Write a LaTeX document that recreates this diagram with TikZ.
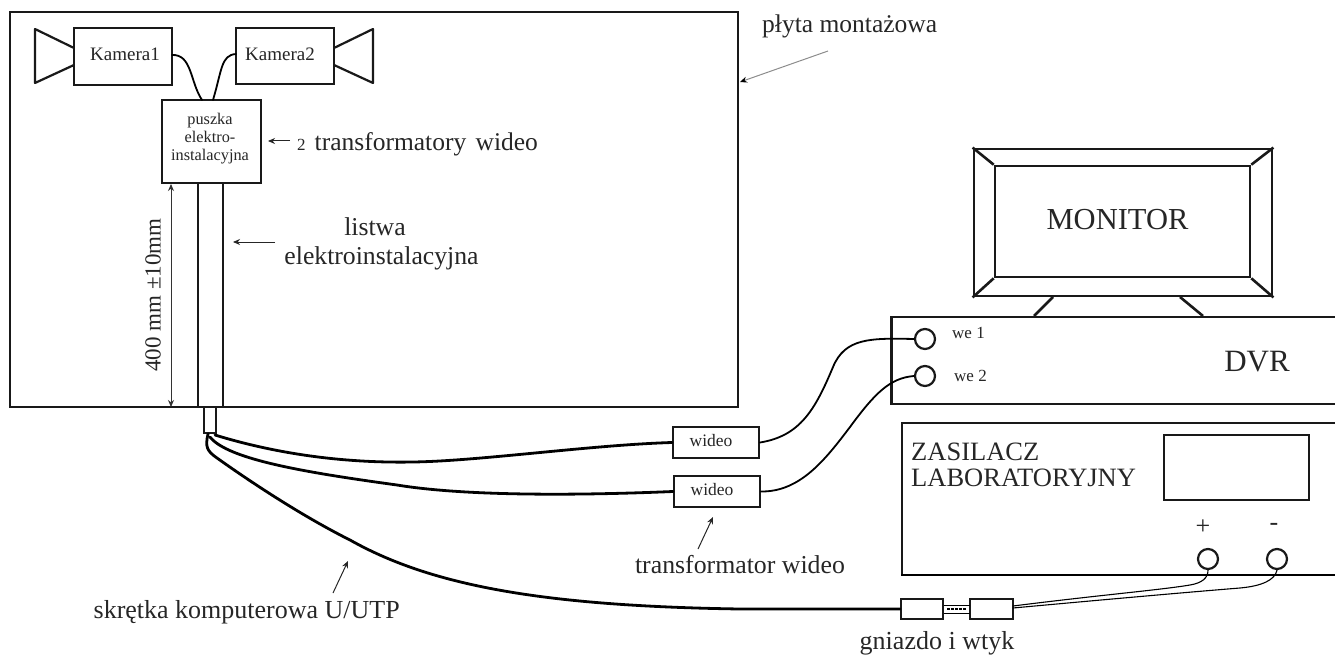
\documentclass[tikz,border=0pt]{standalone}
\usepackage{fontspec}
\setmainfont{Liberation Serif}
\usetikzlibrary{arrows.meta}
\newcommand{\fsz}[1]{\fontsize{#1}{#1}\selectfont}
\tikzset{
  box/.style={draw=black!90,line width=2pt,fill=white,inner sep=0pt,align=center},
  thick line/.style={draw=black!90,line width=2.6pt},
  wire/.style={draw=black,line width=1.8pt,line cap=round},
  cable/.style={draw=black,line width=2.8pt,line cap=round},
  thin wire/.style={draw=black,line width=1.1pt,line cap=round},
  lbl/.style={inner sep=0pt,align=center,text=black!85},
  pointer/.style={draw=black!85,line width=1pt,-{Stealth[length=7pt,width=6pt]}},
  socket/.style={circle,draw=black!90,line width=2.2pt,fill=white,minimum size=20pt,inner sep=0pt}
}
\begin{document}
\begin{tikzpicture}[x=1pt,y=-1pt]
\useasboundingbox (0,0) rectangle (1335,655);
% plate
\node[box,minimum width=728pt,minimum height=395pt] (plate) at (374,209.5) {};
% listwa
\coordinate (l1t) at (198,183); \coordinate (l1b) at (198,407);
\coordinate (l2t) at (223,183); \coordinate (l2b) at (223,407);
\draw[thick line] (l1t) -- (l1b); \draw[thick line] (l2t) -- (l2b);
\node[box,minimum width=12pt,minimum height=26pt] (stub) at (210,420) {};
% cameras
\node[box,minimum width=98pt,minimum height=57pt] (k1) at (123,56.5) {};
\node[font=\fsz{19},lbl] at (125,54) {Kamera1};
\node[box,minimum width=98pt,minimum height=56pt] (k2) at (285,56) {};
\node[font=\fsz{19},lbl] at (280,54) {Kamera2};
\draw[draw=black!90,line width=2.2pt,line join=round] (74,48) -- (35,29) -- (35,83) -- (74,65);
\draw[draw=black!90,line width=2.2pt,line join=round] (334,48) -- (373,29) -- (373,83) -- (334,65);
\node[box,minimum width=99pt,minimum height=83pt] (pu) at (211.5,141.5) {};
\node[lbl,font=\fontsize{16.3}{17.7}\selectfont] at (210,138.5) {puszka\\elektro-\\instalacyjna};
\coordinate (pa) at (202,100); \coordinate (pb) at (213,100);
\coordinate (k1o) at (172,55); \coordinate (k2o) at (236,54);
\draw[wire] (k1o) .. controls (192,54) and (190,82) .. (pa);
\draw[wire] (k2o) .. controls (221,55) and (222,70) .. (pb);
% dimension
\coordinate (dt) at (171,184); \coordinate (db) at (171,407);
\draw[draw=black!80,line width=1pt,{Stealth[length=7pt,width=6pt]}-{Stealth[length=7pt,width=6pt]}] (dt) -- (db);
\node[lbl,rotate=90,font=\fsz{23}] at (153,295) {400 mm ±10mm};
% labels on plate
\coordinate (a1s) at (290,141); \coordinate (a1e) at (268,141);
\draw[pointer] (a1s) -- (a1e);
\node[lbl,anchor=west,font=\fsz{25.5}] at (297,144) {\fsz{17}2\hspace{9pt}\fsz{25.5}transformatory\hspace{3pt} wideo};
\coordinate (a2s) at (275,242); \coordinate (a2e) at (233,242);
\draw[pointer] (a2s) -- (a2e);
\node[lbl,font=\fsz{25.7}] (ls1) at (375,227) {listwa};
\node[lbl,font=\fsz{25.7}] (ls2) at (381.5,258) {elektroinstalacyjna};
\node[lbl,anchor=west,font=\fsz{25.5}] at (762,26) {płyta montażowa};
\coordinate (a3s) at (828,51); \coordinate (a3e) at (740,82);
\draw[draw=black!45,line width=1pt,-{Stealth[length=7pt,width=6pt,color=black]}] (a3s) -- (a3e);
% monitor
\node[box,line width=2.8pt,minimum width=298pt,minimum height=147pt] (mo) at (1123,222.5) {};
\node[box,line width=2.6pt,minimum width=255pt,minimum height=111pt] (ms) at (1122.5,221.5) {};
\node[lbl,font=\fsz{30.5}] at (1117.5,220) {MONITOR};
\draw[thick line] (mo.north west) -- (ms.north west);
\draw[thick line] (mo.north east) -- (ms.north east);
\draw[thick line] (mo.south west) -- (ms.south west);
\draw[thick line] (mo.south east) -- (ms.south east);
% DVR
\node[box,line width=2.2pt,minimum width=445pt,minimum height=87pt] (dvr) at (1114,360.5) {};
\draw[thick line] (1053,297) -- (1034,316);
\draw[thick line] (1180,297) -- (1203,316);
\node[lbl,font=\fsz{31}] at (1257,362) {DVR};
\node[socket] (w1) at (925,339) {};
\node[socket] (w2) at (925,376) {};
\node[lbl,anchor=west,font=\fsz{17}] at (952,333) {we 1};
\node[lbl,anchor=west,font=\fsz{17}] at (954,376) {we 2};
% zasilacz
\draw[draw=black!90,line width=2.2pt] (1335,423) -- (902,423) -- (902,575);
\draw[draw=black,line width=2.8pt] (901,575) -- (1335,575);
\node[box,minimum width=145pt,minimum height=65pt] (disp) at (1236.5,467.5) {};
\node[lbl,anchor=west,font=\fsz{26.5}] at (911,452) {ZASILACZ};
\node[lbl,anchor=west,font=\fsz{26.5}] at (911,478) {LABORATORYJNY};
\node[lbl,font=\fsz{26}] at (1203,527) {+};
\node[lbl,font=\fsz{26}] at (1274,527) {-};
\node[socket] (pl) at (1208,559) {};
\node[socket] (mi) at (1277,559) {};
% transformers
\node[box,minimum width=86pt,minimum height=31pt] (t1) at (716,442.5) {};
\node[lbl,font=\fsz{17.5}] at (711,441) {wideo};
\node[box,minimum width=86pt,minimum height=31pt] (t2) at (717,491.5) {};
\node[lbl,font=\fsz{17.5}] at (712,490) {wideo};
\draw[wire] (t1.east) .. controls (800,436) and (815,410) .. (833,367) .. controls (845,338) and (870,338) .. (w1.west);
\draw[wire] (t2.east) .. controls (800,492) and (825,460) .. (850,427) .. controls (875,393) and (890,378) .. (w2.west);
% plug
\node[box,minimum width=42pt,minimum height=20pt] (g1) at (922,609) {};
\node[box,minimum width=43pt,minimum height=20pt] (g2) at (991.5,609) {};
\draw[draw=black,line width=1pt] (g1.east) ++(0,-4) -- (970,605) (g1.east) ++(0,4) -- (970,613);
\draw[draw=black,line width=2pt,dash pattern=on 2.5pt off 1.5pt] (g1.east) ++(3,0) -- ([xshift=-2pt]g2.west);
% cables
\coordinate (c) at (208,434);
\draw[cable] (215,435) .. controls (290,458) and (360,463) .. (413,462) .. controls (480,461) and (590,445) .. (t1.west);
\draw[cable] (210,437) .. controls (228,460) and (310,473) .. (397,485) .. controls (470,497) and (590,495) .. (t2.west);
\draw[cable] (c) .. controls (205,447) and (207,451) .. (217,458) .. controls (262,490) and (310,520) .. (350,540) .. controls (430,585) and (540,606) .. (740,609) -- (g1.west);
\coordinate (g2a) at (1013,606); \coordinate (g2b) at (1013,608);
\draw[thin wire] (g2a) .. controls (1100,595) and (1160,590) .. (1190,585) .. controls (1202,583) and (1208,578) .. (pl.south);
\draw[thin wire] (g2b) .. controls (1100,600) and (1190,592) .. (1240,588) .. controls (1262,586) and (1275,580) .. (mi.south);
% bottom labels
\coordinate (a4s) at (698,549); \coordinate (a4e) at (713,517);
\draw[pointer] (a4s) -- (a4e);
\node[lbl,font=\fsz{25.8}] at (740,565) {transformator wideo};
\coordinate (a5s) at (333,593); \coordinate (a5e) at (348,561);
\draw[pointer] (a5s) -- (a5e);
\node[lbl,anchor=east,font=\fsz{26}] at (400,612) {skrętka komputerowa U/UTP};
\node[lbl,font=\fsz{26}] at (937,643) {gniazdo i wtyk};
\end{tikzpicture}
\end{document}
